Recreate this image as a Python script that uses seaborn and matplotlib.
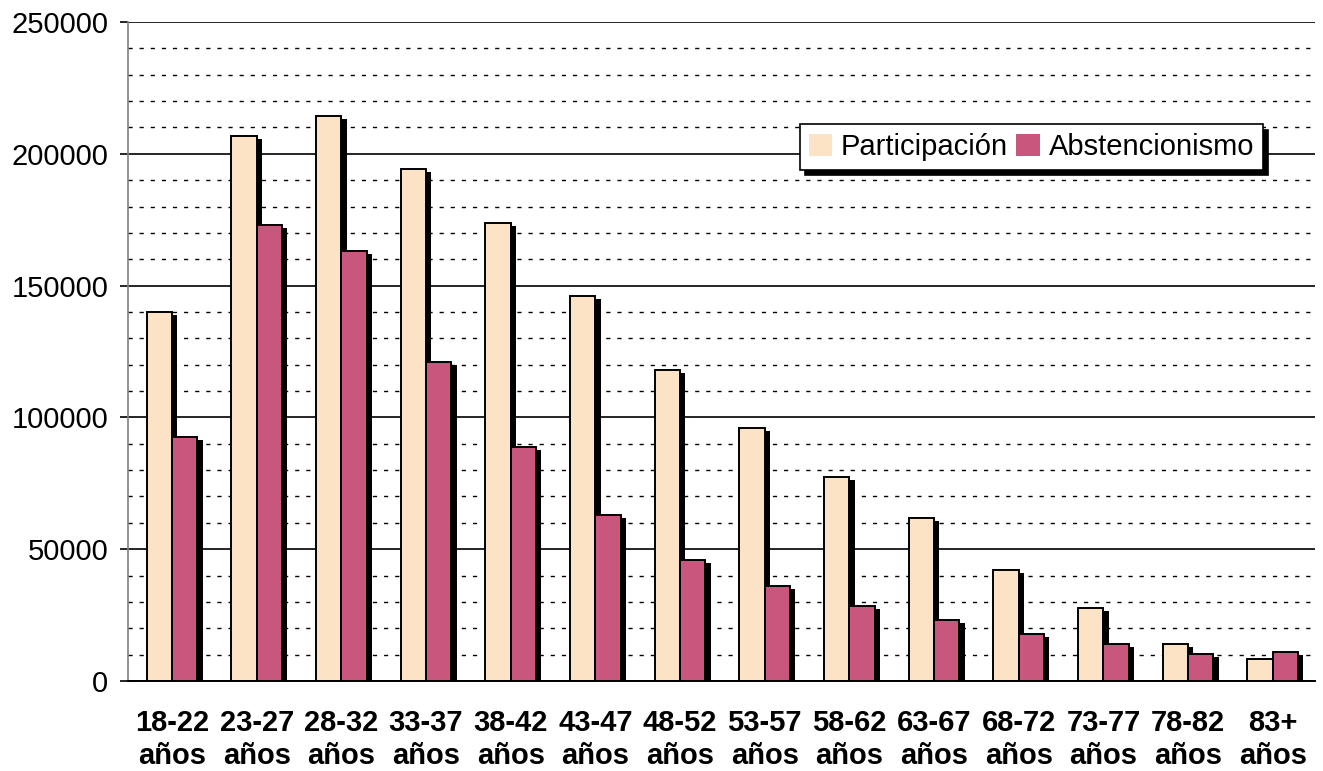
import pandas as pd
import matplotlib
matplotlib.use("Agg")
import matplotlib.pyplot as plt
import matplotlib.patheffects as pe
from matplotlib.ticker import MultipleLocator
import seaborn as sns

# Data
grupos = ["18-22\naños", "23-27\naños", "28-32\naños", "33-37\naños", "38-42\naños",
          "43-47\naños", "48-52\naños", "53-57\naños", "58-62\naños", "63-67\naños",
          "68-72\naños", "73-77\naños", "78-82\naños", "83+\naños"]
participacion = [140000, 206700, 214300, 194200, 173700, 146000, 118000,
                 96000, 77400, 61800, 42100, 27800, 14100, 8300]
abstencion = [92600, 173000, 163100, 121000, 88800, 63000, 45900,
              36000, 28500, 23100, 17900, 14000, 10400, 11000]
series = ["Participación", "Abstencionismo"]
colores = ["#FCE3C5", "#C9577D"]

df = pd.DataFrame({
    "grupo": grupos * 2,
    "valor": participacion + abstencion,
    "serie": [series[0]] * len(grupos) + [series[1]] * len(grupos),
})

sns.set_style("white")
plt.rcParams["font.family"] = ["Liberation Sans", "DejaVu Sans"]
plt.rcParams["text.color"] = "black"
plt.rcParams["xtick.color"] = "black"
plt.rcParams["ytick.color"] = "black"

fig = plt.figure(figsize=(13.23, 7.71), dpi=100)
ax = fig.add_axes([0.0967, 0.1167, 0.8973, 0.8548])

sns.barplot(data=df, x="grupo", y="valor", hue="serie", palette=colores,
            width=0.6, edgecolor="black", linewidth=1.4, saturation=1, ax=ax)

# drop shadow like the original
for p in ax.patches:
    p.set_path_effects([pe.SimplePatchShadow(offset=(3.8, -2.2), shadow_rgbFace="black", alpha=1),
                        pe.Normal()])

ax.set_ylim(0, 250000)
ax.set_xlim(-0.52, 13.5)
ax.yaxis.set_major_locator(MultipleLocator(50000))
ax.yaxis.set_minor_locator(MultipleLocator(10000))
ax.grid(axis="y", which="major", color="black", linewidth=1.2, linestyle="-")
ax.grid(axis="y", which="minor", color="black", linewidth=1.0, linestyle=(0, (3, 5)))
ax.set_axisbelow(True)

for s in ["top", "right"]:
    ax.spines[s].set_visible(False)
ax.spines["left"].set_color("#808080")
ax.spines["left"].set_linewidth(1.2)
ax.spines["bottom"].set_color("black")
ax.spines["bottom"].set_linewidth(1.4)

ax.tick_params(axis="y", which="major", left=True, length=6, width=1.2, color="black",
               labelcolor="black", labelsize=21, pad=8)
ax.tick_params(axis="y", which="minor", left=False)
ax.tick_params(axis="x", bottom=False, labelcolor="black", labelsize=21, pad=17)
for lbl in ax.get_xticklabels():
    lbl.set_fontweight("bold")
    lbl.set_linespacing(1.2)

ax.set_xlabel("")
ax.set_ylabel("")

leg = ax.legend(loc="upper right", bbox_to_anchor=(0.956, 0.845), borderaxespad=0,
                ncol=2, fontsize=21, frameon=True, fancybox=False,
                shadow={"color": "black", "alpha": 1, "ox": 4, "oy": -4},
                handlelength=0.8, handleheight=0.8, handletextpad=0.3,
                columnspacing=0.3, borderpad=0.3)
leg.get_frame().set_edgecolor("black")
leg.get_frame().set_linewidth(1.2)
for t in leg.get_texts():
    t.set_color("black")
for h in leg.legend_handles:
    h.set_edgecolor("none")
    h.set_path_effects([])

fig.savefig("out.png", dpi=100)
